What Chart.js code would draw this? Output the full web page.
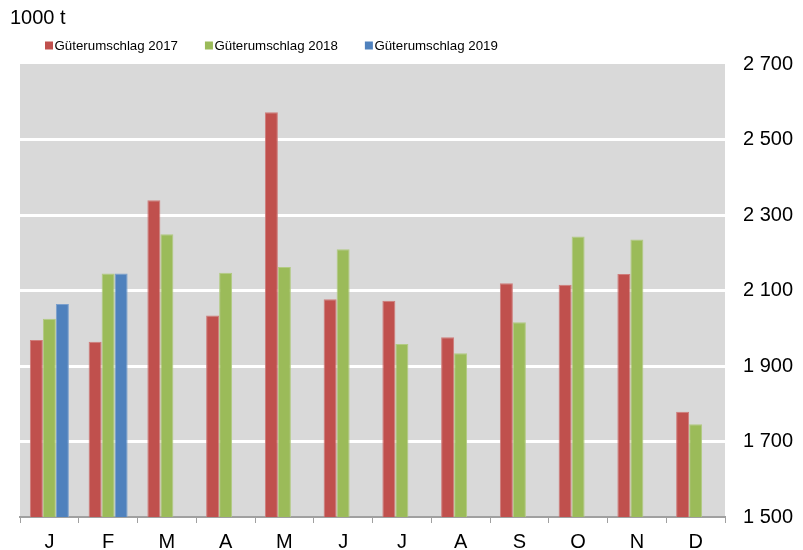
<!DOCTYPE html>
<html>
<head>
<meta charset="utf-8">
<script src="https://cdn.jsdelivr.net/npm/chart.js@4"></script>
<style>
  html, body { margin: 0; padding: 0; background: #fff; }
  #wrap { width: 803px; height: 550px; position: relative; }
</style>
</head>
<body>
<div id="wrap"><canvas id="c" width="803" height="550"></canvas></div>
<script>
const months = ['J','F','M','A','M','J','J','A','S','O','N','D'];
const series2017 = [1969, 1964, 2339, 2034, 2572, 2077, 2073, 1976, 2119, 2115, 2144, 1779];
const series2018 = [2025, 2145, 2249, 2147, 2162, 2209, 1958, 1934, 2016, 2243, 2235, 1746];
const series2019 = [2064, 2145, null, null, null, null, null, null, null, null, null, null];
const seriesNames = ['Güterumschlag 2017', 'Güterumschlag 2018', 'Güterumschlag 2019'];
const unitLabel = '1000 t';
const yMin = 1500, yMax = 2700, yStep = 200;

const FONT = "'Liberation Sans', Arial, sans-serif";
const colors = ['#C0504D', '#9BBB59', '#4F81BD'];
const borders = ['#CF7C7A', '#B2CB82', '#7BA0CD'];

const bgPlugin = {
  id: 'plotBg',
  beforeDraw(chart) {
    const {ctx, chartArea: a} = chart;
    ctx.save();
    ctx.fillStyle = '#D9D9D9';
    ctx.fillRect(a.left, a.top, a.right - a.left, a.bottom - a.top);
    ctx.restore();
  }
};

const headerPlugin = {
  id: 'header',
  afterDraw(chart) {
    const ctx = chart.ctx;
    ctx.save();
    ctx.fillStyle = '#000';
    ctx.textBaseline = 'alphabetic';
    ctx.font = '20px ' + FONT;
    ctx.fillText(unitLabel, 10, 23.5);
    ctx.font = '13.3px ' + FONT;
    let x = 45;
    chart.data.datasets.forEach((ds, i) => {
      ctx.fillStyle = ds.backgroundColor;
      ctx.fillRect(x, 41.5, 8, 8);
      ctx.fillStyle = '#000';
      const tx = x + 9.5;
      ctx.fillText(ds.label, tx, 50);
      x = tx + ctx.measureText(ds.label).width + 27;
    });
    ctx.restore();
  }
};

const fmt = v => String(v).replace(/\B(?=(\d{3})+(?!\d))/g, ' ');

new Chart(document.getElementById('c'), {
  type: 'bar',
  data: {
    labels: months,
    datasets: [series2017, series2018, series2019].map((d, i) => ({
      label: seriesNames[i],
      data: d,
      backgroundColor: colors[i],
      borderColor: borders[i],
      borderWidth: 1,
      categoryPercentage: 0.664,
      barPercentage: 1.0
    }))
  },
  options: {
    responsive: false,
    animation: false,
    devicePixelRatio: 1,
    layout: { padding: { top: 64, left: 20, right: 0, bottom: 0 } },
    plugins: {
      legend: { display: false },
      title: { display: false },
      tooltip: { enabled: false }
    },
    scales: {
      x: {
        offset: true,
        grid: {
          offset: true,
          drawOnChartArea: false,
          drawTicks: true,
          tickLength: 6,
          color: '#A0A0A0',
          lineWidth: 1
        },
        border: { display: true, color: '#A0A0A0', width: 2 },
        ticks: { font: { size: 20, family: FONT }, color: '#000', padding: 7, maxRotation: 0, autoSkip: false },
        afterFit(s) { s.height = 33; }
      },
      y: {
        position: 'right',
        min: yMin,
        max: yMax,
        grid: {
          drawTicks: false,
          lineWidth: 3,
          color: c => (c.tick && (c.tick.value === yMin || c.tick.value === yMax)) ? 'rgba(0,0,0,0)' : '#FFFFFF'
        },
        border: { display: false },
        ticks: {
          stepSize: yStep,
          padding: 18,
          color: '#000',
          font: { size: 20, family: FONT },
          callback: v => fmt(v)
        },
        afterFit(s) { s.width = 78; }
      }
    }
  },
  plugins: [bgPlugin, headerPlugin]
});
</script>
</body>
</html>
